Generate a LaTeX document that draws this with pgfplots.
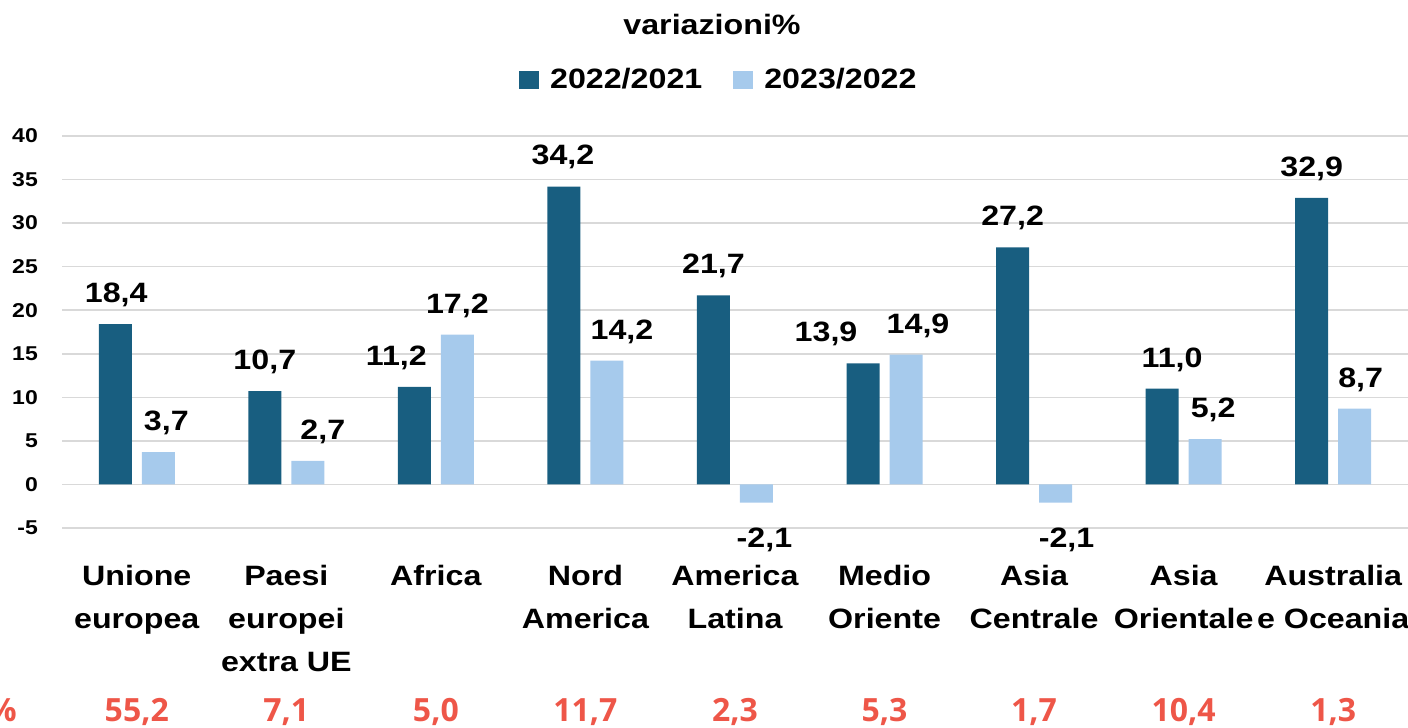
\documentclass[border=0pt]{standalone}
\usepackage{pgfplots}
\usepackage{pgfplotstable}
\pgfplotsset{compat=1.18}
\usepackage{fontspec}
\setmainfont{Liberation Sans}[FakeStretch=1.15]
\newfontfamily\quotafont{Open Sans}
\definecolor{scuro}{RGB}{24,94,128}
\definecolor{chiaro}{RGB}{166,202,236}
\definecolor{rosso}{RGB}{238,86,72}
\definecolor{griglia}{RGB}{217,217,217}

% dx = spostamento orizzontale dell'etichetta (pt)
\pgfplotstableread{
x y dx
0 18.4 1
1 10.7 0
2 11.2 -18
3 34.2 -1
4 21.7 0
5 13.9 -37
6 27.2 0
7 11.0 10
8 32.9 0
}\datiA
\pgfplotstableread{
x y dx
0 3.7 8
1 2.7 15
2 17.2 0
3 14.2 15
4 -2.1 8
5 14.9 12
6 -2.1 11
7 5.2 8
8 8.7 6
}\datiB
\pgfplotstableread{
x q
0 55.2
1 7.1
2 5.0
3 11.7
4 2.3
5 5.3
6 1.7
7 10.4
8 1.3
}\quote

\begin{document}
\begin{tikzpicture}
\begin{axis}[
    at={(62pt,200pt)}, anchor=south west,
    scale only axis, width=1346pt, height=392pt,
    ybar=10pt, bar width=33pt,
    xmin=-0.5, xmax=8.5, ymin=-5, ymax=40,
    ytick={-5,0,...,40},
    xtick={0,...,8},
    xticklabels={{Unione\\europea},{Paesi\\europei\\extra UE},{Africa},{Nord\\America},{America\\Latina},{Medio\\Oriente},{Asia\\Centrale},{Asia\\Orientale},{Australia\\e Oceania}},
    axis line style={draw=none},
    major tick length=0pt,
    ymajorgrids, grid style={griglia, line width=1.5pt},
    /pgf/number format/assume math mode=true,
    yticklabel style={font=\fontsize{20}{24}\selectfont\bfseries, inner xsep=0pt, xshift=-24pt},
    xticklabel style={font=\fontsize{28}{43}\selectfont\bfseries, align=center, anchor=north, inner sep=0pt, yshift=-37pt},
    nodes near coords={\pgfmathprintnumber[fixed,fixed zerofill,precision=1,use comma,assume math mode=true]{\pgfplotspointmeta}},
    visualization depends on={y \as \yv},
    visualization depends on={\thisrow{dx} \as \dx},
    every node near coord/.append style={font=\fontsize{28}{34}\selectfont\bfseries, inner ysep=17pt, text=black, yshift={ifthenelse(\yv<0,-8,0)}, xshift=\dx pt},
    legend columns=2,
    legend style={draw=none, fill=none, at={(0.488,1.145)}, anchor=center,
        font=\fontsize{28}{34}\selectfont\bfseries,
        /tikz/every even column/.append style={column sep=29pt}},
    legend image code/.code={\fill[#1] (0pt,-10pt) rectangle (20pt,8pt); \path (29pt,0pt);},
]
\addplot[fill=scuro, draw=none] table[x=x, y=y] {\datiA};
\addplot[fill=chiaro, draw=none] table[x=x, y=y] {\datiB};
\legend{2022/2021, 2023/2022}
\end{axis}

% riga delle quote
\begin{axis}[
    at={(62pt,200pt)}, anchor=south west,
    scale only axis, width=1346pt, height=392pt,
    xmin=-0.5, xmax=8.5, ymin=-5, ymax=40,
    hide axis, clip=false,
]
\addplot[draw=none, mark=none, point meta=explicit,
    nodes near coords={\pgfmathprintnumber[fixed,fixed zerofill,precision=1,use comma,assume math mode=true]{\pgfplotspointmeta}},
    every node near coord/.append style={anchor=base, inner sep=0pt, font=\quotafont\bfseries\fontsize{32}{38}\selectfont, text=rosso}]
    table[x=x, y expr=-27.2, meta=q] {\quote};
\end{axis}

\node[anchor=base, font=\fontsize{28}{34}\selectfont\bfseries] at (712pt,693pt) {variazioni\%};
\node[anchor=base east, inner sep=0pt, font=\quotafont\bfseries\fontsize{32}{38}\selectfont, text=rosso] at (17pt,6pt) {\%};

\pgfresetboundingbox
\useasboundingbox (0,0) rectangle (1408pt,728pt);
\end{tikzpicture}
\end{document}
